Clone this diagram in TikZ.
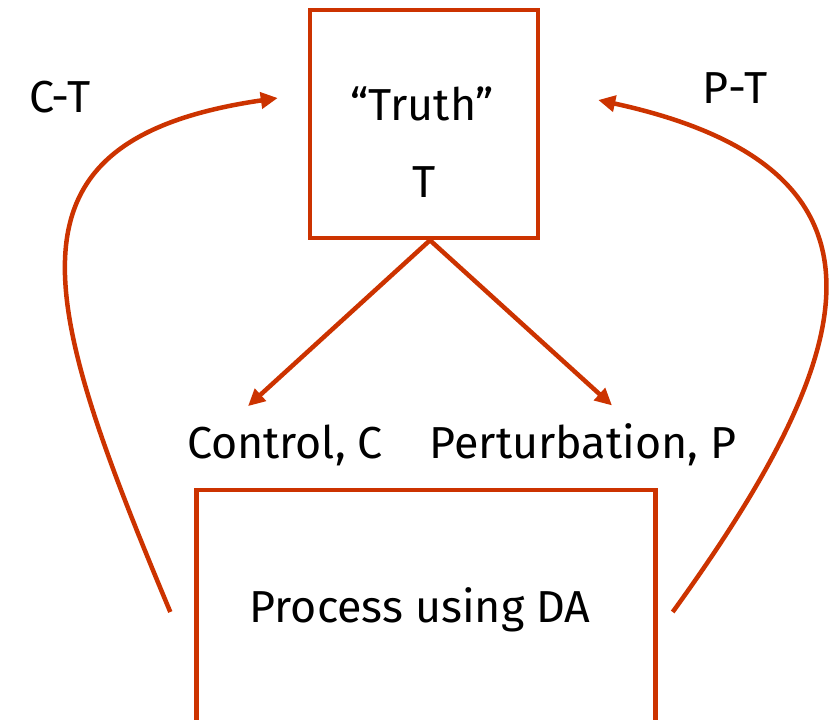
\documentclass[tikz,border=0pt]{standalone}
\usepackage{fontspec}
\setmainfont{Fira Sans}
\usepackage{xcolor}
\usepackage{tikz}
\usetikzlibrary{arrows.meta,positioning,calc}
\definecolor{rust}{RGB}{204,51,0}

\begin{document}
\begin{tikzpicture}[
  x=0.02cm, y=-0.02cm,
  box/.style={draw=rust, line width=0.09cm, inner sep=0pt},
  lbl/.style={font=\fontsize{25.5}{30}\selectfont, inner sep=0pt},
  arr/.style={draw=rust, line width=0.09cm, -{Triangle[length=0.34cm, width=0.32cm]}}
]
  \useasboundingbox (0,0) rectangle (832,720);
  \clip (0,0) rectangle (832,720);
  \node[box, minimum width=4.56cm, minimum height=4.56cm] (truth) at (424,124) {};
  \node[lbl] (ttl) at (422,104) {“Truth”};
  \node[lbl] (tsym) at (424,182) {T};
  \node[box, minimum width=9.18cm, minimum height=5.4cm] (proc) at (426,625) {};
  \node[lbl] (ptxt) at (420,610) {Process using DA};
  \node[lbl] (ctrl) at (285,445) {Control, C};
  \node[lbl] (pert) at (583,445) {Perturbation, P};
  \node[lbl] (ct) at (60,97) {C-T};
  \node[lbl] (pt) at (735,88) {P-T};
  \coordinate (ctip) at ($(ctrl.north)+(-37,-18)$);
  \coordinate (ptip) at ($(pert.north)+(29,-18)$);
  \draw[arr] ([xshift=0.12cm]truth.south) -- (ctip);
  \draw[arr] ([xshift=0.12cm]truth.south) -- (ptip);
  % feedback curves
  \draw[arr] ($(proc.west)+(-24,-13)$) .. controls (40,300) and (-10,140) .. ($(truth.west)+(-30,-26)$);
  \draw[arr] ($(proc.east)+(15,-13)$) .. controls (855,360) and (920,170) .. ($(truth.east)+(58,-24)$);
\end{tikzpicture}
\end{document}
